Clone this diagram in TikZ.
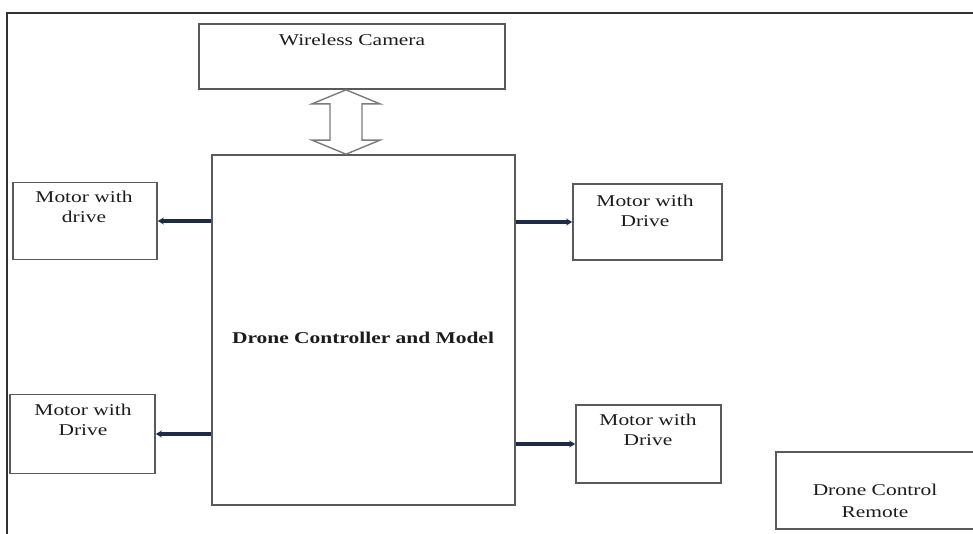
\documentclass[tikz,border=0pt]{standalone}
\usepackage{fontspec}
\usepackage{graphicx}
\setmainfont{Liberation Serif}
\usetikzlibrary{calc,arrows.meta}

\definecolor{boxgray}{HTML}{5A5A5A}
\definecolor{framegray}{HTML}{333333}
\definecolor{linknavy}{HTML}{1E2B45}
\definecolor{inkgray}{HTML}{1C1C1C}

% wide, two-line captions as in the drawing
\newcommand\widetxt[1]{\scalebox{1.3}[1]{\begin{tabular}[t]{@{}c@{}}#1\end{tabular}}}

\tikzset{
  box/.style={draw=boxgray, line width=1.7pt, fill=white, rectangle, inner sep=0pt},
  lbl/.style={anchor=base, inner sep=0pt, text=inkgray,
              font=\fontsize{16.5}{20}\selectfont},
  link/.style={draw=linknavy, line width=3.2pt,
               -{Stealth[length=6pt,width=7pt]}},
  hollow/.style={draw=boxgray!80, line width=1.4pt, fill=white, line join=miter},
  frame/.style={draw=framegray, line width=2pt}
}

\begin{document}
\begin{tikzpicture}[x=1pt,y=-1pt]
  \clip (0,0) rectangle (973,533);
  \fill[white] (0,0) rectangle (973,533);

  % outer frame (top and left edges)
  \draw[frame] (980,13) -- (7,13) -- (7,540);

  % blocks
  \node[box, minimum width=306pt, minimum height=65pt] (cam)   at (352,56.5)  {};
  \node[box, minimum width=303pt, minimum height=350pt] (ctrl) at (363.5,330) {};
  \node[box, minimum width=144pt, minimum height=77pt]  (m1)   at (85,221)    {};
  \node[box, minimum width=149pt, minimum height=76pt]  (m2)   at (647.5,222) {};
  \node[box, minimum width=145pt, minimum height=79pt]  (m3)   at (82.5,434)  {};
  \node[box, minimum width=145pt, minimum height=78pt]  (m4)   at (648.5,444) {};
  \node[box, minimum width=200pt, minimum height=77pt]  (rem)  at (876,490.5) {};

  % captions
  \node[lbl] (tcam)  at (352,45)   {\widetxt{Wireless Camera}};
  \node[lbl] (tctrl) at (363,343)  {\widetxt{\bfseries Drone Controller and Model}};
  \node[lbl] (tm1)   at (84,202)   {\widetxt{Motor with\\drive}};
  \node[lbl] (tm2)   at (645,206)  {\widetxt{Motor with\\Drive}};
  \node[lbl] (tm3)   at (83,415)   {\widetxt{Motor with\\Drive}};
  \node[lbl] (tm4)   at (648,425)  {\widetxt{Motor with\\Drive}};
  \node[lbl, font=\fontsize{16.5}{22}\selectfont] (trem) at (875,495) {\widetxt{Drone Control\\Remote}};

  % two-way data path between camera and controller
  \coordinate (axis) at (346,0);
  \coordinate (dtop) at (cam.south -| axis);
  \coordinate (dbot) at (ctrl.north -| axis);
  \draw[hollow] (dtop) -- ($(dtop)+(34,14)$) -- ($(dtop)+(16,14)$)
    -- ($(dbot)+(16,-14)$) -- ($(dbot)+(34,-14)$) -- (dbot)
    -- ($(dbot)+(-34,-14)$) -- ($(dbot)+(-16,-14)$)
    -- ($(dtop)+(-16,14)$) -- ($(dtop)+(-34,14)$) -- cycle;

  % controller to motor drives
  \draw[link] (ctrl.west |- m1.east) -- (m1.east);
  \draw[link] (ctrl.east |- m2.west) -- (m2.west);
  \draw[link] (ctrl.west |- m3.east) -- (m3.east);
  \draw[link] (ctrl.east |- m4.west) -- (m4.west);
\end{tikzpicture}
\end{document}
